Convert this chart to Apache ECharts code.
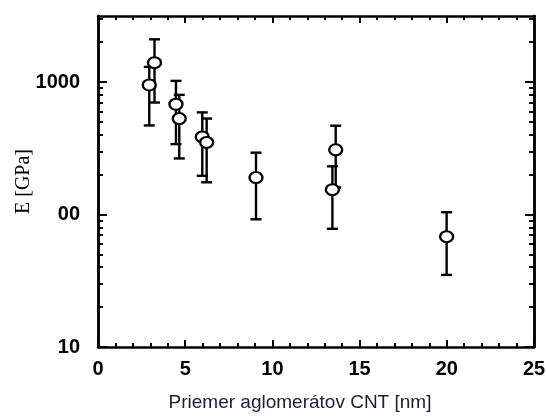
<!DOCTYPE html>
<html><head><meta charset="utf-8">
<script src="https://cdn.jsdelivr.net/npm/echarts@6/dist/echarts.min.js"></script>
<style>html,body{margin:0;padding:0;background:#fff}#c{width:546px;height:417px}</style>
</head><body><div id="c"></div>
<script>
// Data
const diameters = [2.94, 3.24, 4.47, 4.66, 5.98, 6.23, 9.06, 13.44, 13.63, 19.99];
const modulus   = [950, 1400, 680, 530, 385, 350, 190, 154, 308, 68];
const errHigh   = [1300, 2100, 1020, 800, 590, 530, 293, 231, 468, 104];
const errLow    = [470, 700, 340, 265, 196, 175, 92, 78, 160, 35];
const xTickValues = [0, 5, 10, 15, 20, 25];
const yMajorTicks = [10, 100, 1000];
const yMinorTicks = [20,30,40,50,60,70,80,90,200,300,400,500,600,700,800,900,2000,3000];
const yTickLabels = {10: '10', 100: '00', 1000: '1000'};
const xTitle = 'Priemer aglomerátov CNT [nm]';
const yTitle = 'E [GPa]';

const chart = echarts.init(document.getElementById('c'), null, {renderer: 'canvas'});
const labelFont = {fontFamily: 'Liberation Sans', fontWeight: 'bold', fontSize: 20, color: '#000'};
const lineSt = {color: '#000', width: 2.5};

function yAx(position, major, showLabel, withName) {
  const ax = {
    type: 'log', logBase: 10, min: 10, max: 3150, position: position,
    axisLine: {show: true, lineStyle: lineSt},
    axisTick: {show: true, inside: true, length: major ? 9 : 5,
      customValues: major ? yMajorTicks : yMinorTicks, lineStyle: {color: '#000', width: 2}},
    axisLabel: {show: showLabel, customValues: yMajorTicks, margin: 18,
      formatter: v => yTickLabels[Math.round(v)] || '', ...labelFont},
    splitLine: {show: false}, minorTick: {show: false}
  };
  if (withName) {
    ax.name = yTitle; ax.nameLocation = 'middle'; ax.nameGap = 64; ax.nameMoveOverlap = false;
    ax.nameTextStyle = {fontFamily: 'Liberation Serif', fontSize: 20, color: '#000'};
  }
  return ax;
}
function xAx(position, showLabel, withName) {
  const ax = {
    type: 'value', min: 0, max: 25, interval: 5, position: position,
    axisLine: {show: true, onZero: false, lineStyle: lineSt},
    axisTick: {show: true, inside: true, length: 7, lineStyle: {color: '#000', width: 2}},
    minorTick: {show: true, splitNumber: 5, length: 4, lineStyle: {color: '#000', width: 2}},
    axisLabel: {show: showLabel, margin: 12, customValues: xTickValues, ...labelFont},
    splitLine: {show: false}
  };
  if (withName) {
    ax.name = xTitle; ax.nameLocation = 'middle'; ax.nameGap = 46;
    ax.nameTextStyle = {fontFamily: 'Liberation Sans', fontSize: 19, color: '#1b1b3a', padding: [0, 32, 0, 0]};
  }
  return ax;
}

chart.setOption({
  animation: false,
  backgroundColor: '#fff',
  grid: {left: 98, right: 12, top: 16, bottom: 70, containLabel: false, outerBoundsMode: 'none'},
  xAxis: [xAx('bottom', true, true), xAx('top', false, false)],
  yAxis: [yAx('left', true, true, true), yAx('left', false, false, false),
          yAx('right', true, false, false), yAx('right', false, false, false)],
  series: [
    {
      type: 'custom', xAxisIndex: 0, yAxisIndex: 0, z: 2,
      data: diameters.map((d, i) => [d, errLow[i], errHigh[i]]),
      encode: {x: 0, y: [1, 2]},
      renderItem: function (params, api) {
        const x = api.value(0);
        const pLo = api.coord([x, api.value(1)]);
        const pHi = api.coord([x, api.value(2)]);
        const w = 5.5;
        const st = {stroke: '#000', lineWidth: 2.4};
        return {type: 'group', children: [
          {type: 'line', shape: {x1: pHi[0], y1: pHi[1], x2: pLo[0], y2: pLo[1]}, style: st},
          {type: 'line', shape: {x1: pHi[0] - w, y1: pHi[1], x2: pHi[0] + w, y2: pHi[1]}, style: st},
          {type: 'line', shape: {x1: pLo[0] - w, y1: pLo[1], x2: pLo[0] + w, y2: pLo[1]}, style: st}
        ]};
      }
    },
    {
      type: 'scatter', xAxisIndex: 0, yAxisIndex: 0, z: 5,
      data: diameters.map((d, i) => [d, modulus[i]]),
      symbol: 'circle', symbolSize: [13, 11],
      itemStyle: {color: '#fff', borderColor: '#000', borderWidth: 2.2, opacity: 1}
    }
  ]
});
</script>
</body></html>
